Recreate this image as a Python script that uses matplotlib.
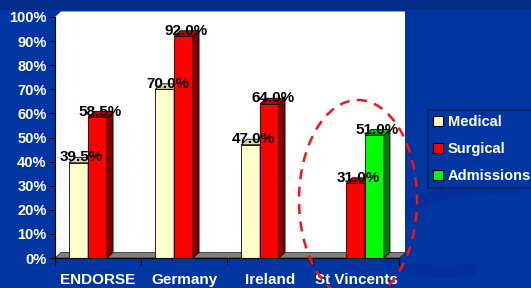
import matplotlib
matplotlib.use("Agg")
import matplotlib.pyplot as plt
from matplotlib.patches import Polygon, Rectangle, Ellipse, Patch, Arc

categories = ['ENDORSE', 'Germany', 'Ireland', 'St Vincents']
medical = [39.5, 70.0, 47.0, None]
surgical = [58.5, 92.0, 64.0, 31.0]
admissions = [None, None, None, 51.0]
yticks = [0, 10, 20, 30, 40, 50, 60, 70, 80, 90, 100]

plt.rcParams['font.family'] = ['Liberation Sans', 'DejaVu Sans']
plt.rcParams['font.weight'] = 'bold'

BG = '#0036a2'
FS = 10.5
fig = plt.figure(figsize=(5.31, 2.88), dpi=100, facecolor=BG)

# swirl decoration in the background
bgax = fig.add_axes([0, 0, 1, 1], zorder=-5)
bgax.set_xlim(0, 531)
bgax.set_ylim(288, 0)
bgax.axis('off')
bgax.add_patch(Rectangle((0, 0), 531, 10, color='#002c88', lw=0))
bgax.add_patch(Arc((470, 230), 190, 80, angle=-8, theta1=90, theta2=330, color='#00319a', lw=9))
bgax.add_patch(Arc((560, 330), 420, 120, angle=-10, theta1=120, theta2=200, color='#00319a', lw=10))

# axes: 0% at y=258px, 100% at y=17px, x from 55px to 399px
ax = fig.add_axes([55 / 531, 30 / 288, 344 / 531, 241 / 288])
ax.set_xlim(0, 4)
ax.set_ylim(0, 100)
ax.patch.set_alpha(0)

dx = 6 / 86.0
dy = 5.5 / 2.41

# back wall + side wall (white) and floor
wall = Polygon([(0, 0), (0, 100), (dx, 100 + dy), (4 + dx, 100 + dy), (4 + dx, dy), (4, 0)],
               closed=True, facecolor='white', edgecolor='none', zorder=0, clip_on=False)
ax.add_patch(wall)
floor = Polygon([(0, 0), (4, 0), (4 + dx, dy), (dx, dy)], closed=True,
                facecolor='#808080', edgecolor='#333333', lw=0.6, zorder=1, clip_on=False)
ax.add_patch(floor)

series = [
    (medical, 0.165, '#ffffcc', '#c8c89a', '#d8d8a8'),
    (surgical, 0.385, '#ff0000', '#800000', '#c00000'),
    (admissions, 0.605, '#00ff00', '#008000', '#00c000'),
]
w = 0.22
z = 2
for i in range(len(categories)):
    for vals, off, front, side, top in series:
        h = vals[i]
        if h is None:
            continue
        x0 = i + off
        z += 1
        ax.bar(x0, h, width=w, align='edge', color=front, edgecolor='black', lw=0.6, zorder=z)
        ax.add_patch(Polygon([(x0 + w, 0), (x0 + w + dx, dy), (x0 + w + dx, h + dy), (x0 + w, h)],
                             closed=True, facecolor=side, edgecolor='black', lw=0.6, zorder=z, clip_on=False))
        ax.add_patch(Polygon([(x0, h), (x0 + w, h), (x0 + w + dx, h + dy), (x0 + dx, h + dy)],
                             closed=True, facecolor=top, edgecolor='black', lw=0.6, zorder=z, clip_on=False))

for i in range(len(categories)):
    for vals, off, front, side, top in series:
        h = vals[i]
        if h is None:
            continue
        ax.text(i + off + w / 2 + dx / 2, h + dy, f'{h:.1f}%', ha='center', va='center',
                fontsize=FS + 0.5, fontweight='bold', color='black', zorder=50, clip_on=False)

for s in ['top', 'right']:
    ax.spines[s].set_visible(False)
ax.spines['left'].set_color('black')
ax.spines['bottom'].set_color('black')
ax.spines['left'].set_zorder(40)
ax.spines['bottom'].set_zorder(40)

ax.set_yticks(yticks)
ax.set_yticklabels([f'{t}%' for t in yticks])
ax.tick_params(axis='y', colors='black', labelcolor='white', labelsize=FS, length=4, pad=2)
ax.set_xticks([0, 1, 2, 3, 4])
ax.set_xticklabels([])
ax.set_xticks([0.5, 1.5, 2.5, 3.5], minor=True)
ax.set_xticklabels(categories, minor=True)
ax.tick_params(axis='x', which='major', colors='black', length=5)
ax.tick_params(axis='x', which='minor', length=0, labelcolor='white', labelsize=FS + 0.5, pad=11)
for lab in ax.get_yticklabels() + ax.get_xticklabels(minor=True):
    lab.set_fontweight('bold')

# dashed highlight around St Vincents
ell = Ellipse(((358 - 55) / 86.0, (258 - 200) / 2.41), 118 / 86.0, 200 / 2.41,
              fill=False, edgecolor='#ff1010', lw=1.8, linestyle=(0, (4, 3)),
              zorder=60, clip_on=False)
ax.add_patch(ell)

handles = [Patch(facecolor=c, edgecolor='black', lw=0.8) for c in ['#ffffcc', '#ff0000', '#00ff00']]
leg = ax.legend(handles, ['Medical', 'Surgical', 'Admissions'], loc='upper left',
                bbox_to_anchor=(428 / 531, 1 - 110 / 288), bbox_transform=fig.transFigure,
                frameon=True, fancybox=False, handlelength=0.7, handleheight=0.7,
                handletextpad=0.3, borderpad=0.35, labelspacing=0.9, borderaxespad=0,
                prop={'size': FS, 'weight': 'bold'})
leg.get_frame().set_facecolor(BG)
leg.get_frame().set_edgecolor('#001a55')
leg.get_frame().set_linewidth(1.2)
for t in leg.get_texts():
    t.set_color('white')

fig.savefig('out.png', dpi=100, facecolor=BG)
